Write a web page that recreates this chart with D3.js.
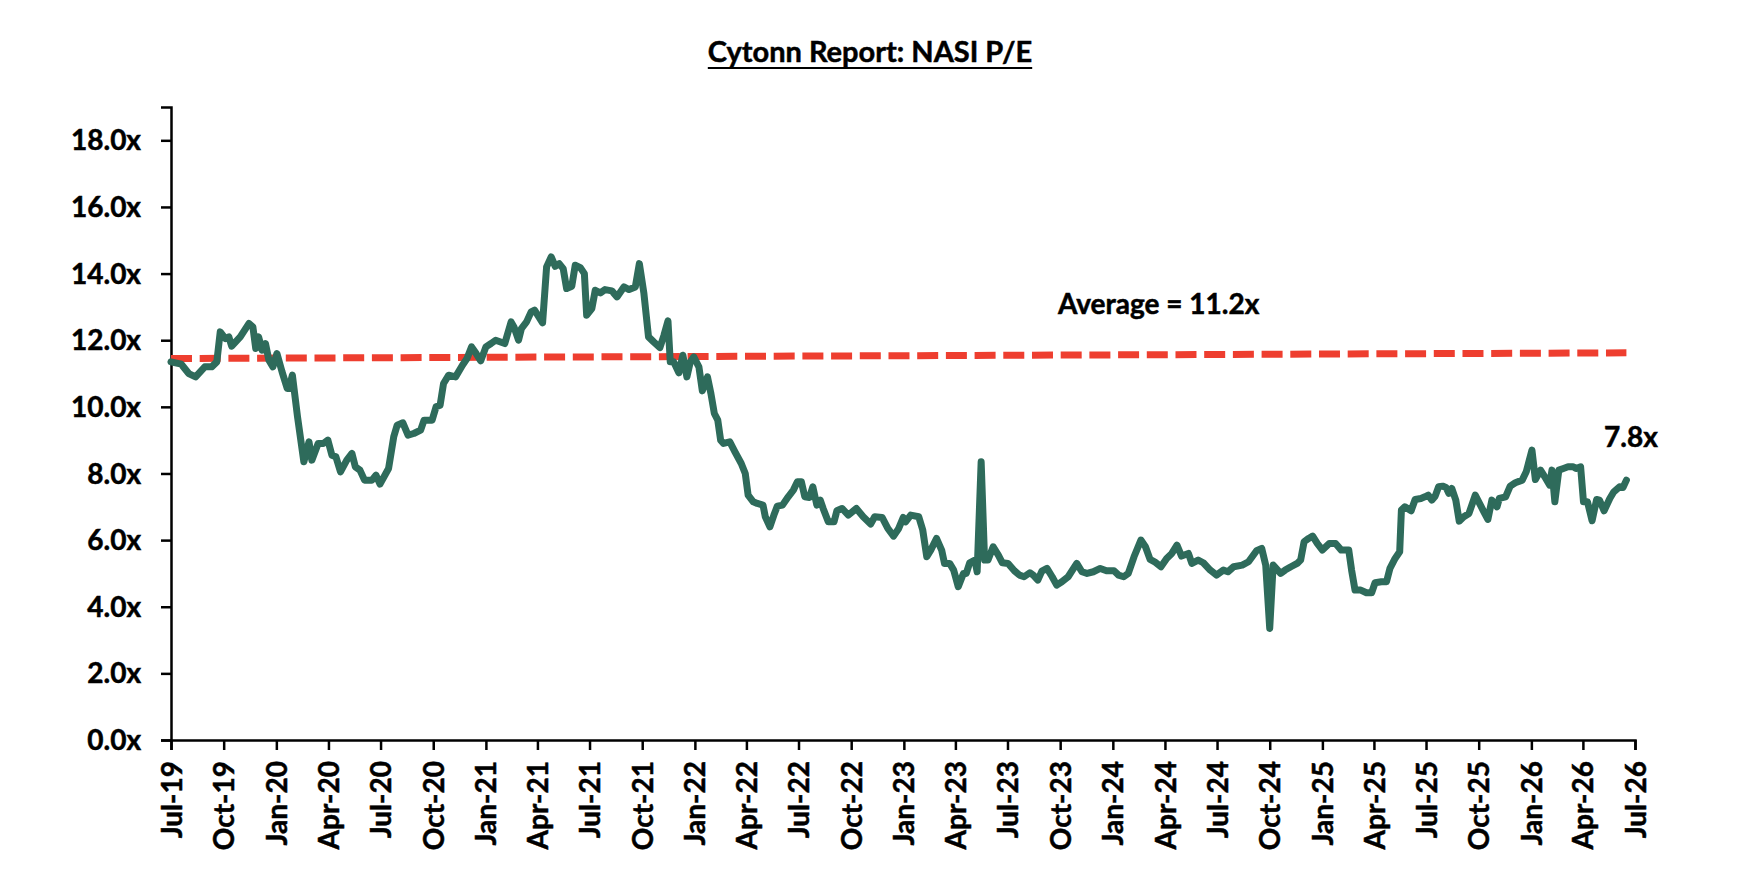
<!DOCTYPE html>
<html>
<head>
<meta charset="utf-8">
<script src="https://cdn.jsdelivr.net/npm/d3@7"></script>
<style>
  body { margin: 0; background: #fff; }
  svg text { font-family: Lato, "Open Sans", sans-serif; font-weight: 700; fill: #000; stroke: #000; stroke-width: 0.5px; }
</style>
</head>
<body>
<div id="chart"></div>
<script>
// NASI P/E weekly readings
var dates = [
  "2019-07-01","2019-07-19","2019-08-01","2019-08-13","2019-08-29","2019-09-10","2019-09-19","2019-09-25",
  "2019-10-04","2019-10-10","2019-10-15","2019-10-30","2019-11-14","2019-11-21","2019-11-26","2019-12-01",
  "2019-12-07","2019-12-13","2019-12-19","2019-12-26","2020-01-02","2020-01-11","2020-01-20","2020-01-23",
  "2020-01-29","2020-02-07","2020-02-18","2020-02-27","2020-03-03","2020-03-14","2020-03-23","2020-03-31",
  "2020-04-07","2020-04-14","2020-04-22","2020-05-03","2020-05-12","2020-05-18","2020-05-26","2020-06-03",
  "2020-06-16","2020-06-23","2020-06-30","2020-07-15","2020-07-24","2020-07-30","2020-08-09","2020-08-18",
  "2020-08-28","2020-09-09","2020-09-15","2020-09-29","2020-10-06","2020-10-13","2020-10-19","2020-10-28",
  "2020-11-09","2020-11-21","2020-11-29","2020-12-07","2020-12-15","2020-12-23","2021-01-01","2021-01-10",
  "2021-01-18","2021-02-03","2021-02-14","2021-02-19","2021-02-27","2021-03-04","2021-03-13","2021-03-21",
  "2021-03-27","2021-04-10","2021-04-17","2021-04-25","2021-05-02","2021-05-09","2021-05-16","2021-05-22",
  "2021-05-31","2021-06-06","2021-06-15","2021-06-22","2021-06-26","2021-07-05","2021-07-11","2021-07-20",
  "2021-07-28","2021-08-09","2021-08-18","2021-08-30","2021-09-08","2021-09-19","2021-09-26","2021-10-04",
  "2021-10-12","2021-10-21","2021-11-01","2021-11-08","2021-11-15","2021-11-19","2021-11-25","2021-12-04",
  "2021-12-11","2021-12-18","2021-12-24","2021-12-30","2022-01-08","2022-01-14","2022-01-23","2022-01-29",
  "2022-02-04","2022-02-10","2022-02-15","2022-02-20","2022-03-03","2022-03-12","2022-03-23","2022-03-30",
  "2022-04-04","2022-04-13","2022-04-20","2022-04-30","2022-05-04","2022-05-12","2022-05-19","2022-05-25",
  "2022-06-03","2022-06-13","2022-06-22","2022-06-29","2022-07-06","2022-07-12","2022-07-20","2022-07-26",
  "2022-08-02","2022-08-08","2022-08-13","2022-08-22","2022-09-01","2022-09-06","2022-09-15","2022-09-26",
  "2022-10-10","2022-10-22","2022-11-04","2022-11-11","2022-11-24","2022-12-04","2022-12-14","2022-12-23",
  "2022-12-31","2023-01-04","2023-01-13","2023-01-27","2023-02-03","2023-02-10","2023-02-17","2023-02-27",
  "2023-03-08","2023-03-13","2023-03-22","2023-03-29","2023-04-06","2023-04-15","2023-04-20","2023-04-26",
  "2023-05-05","2023-05-09","2023-05-16","2023-05-22","2023-05-28","2023-06-06","2023-06-15","2023-06-22",
  "2023-07-02","2023-07-13","2023-07-22","2023-07-30","2023-08-09","2023-08-15","2023-08-23","2023-08-30",
  "2023-09-08","2023-09-17","2023-09-25","2023-10-04","2023-10-15","2023-10-30","2023-11-08","2023-11-17",
  "2023-11-28","2023-12-10","2023-12-21","2024-01-03","2024-01-11","2024-01-20","2024-01-28","2024-02-07",
  "2024-02-19","2024-02-27","2024-03-06","2024-03-14","2024-03-25","2024-04-04","2024-04-13","2024-04-22",
  "2024-04-30","2024-05-12","2024-05-18","2024-05-29","2024-06-07","2024-06-19","2024-06-30","2024-07-12",
  "2024-07-20","2024-07-30","2024-08-14","2024-08-25","2024-09-08","2024-09-17","2024-09-24","2024-10-01",
  "2024-10-07","2024-10-20","2024-10-28","2024-11-07","2024-11-18","2024-11-24","2024-11-30","2024-12-08",
  "2024-12-15","2024-12-23","2025-01-01","2025-01-13","2025-01-24","2025-02-03","2025-02-16","2025-02-21",
  "2025-02-27","2025-03-09","2025-03-19","2025-03-28","2025-04-03","2025-04-14","2025-04-23","2025-04-29",
  "2025-05-08","2025-05-16","2025-05-19","2025-05-25","2025-06-05","2025-06-12","2025-06-22","2025-06-29",
  "2025-07-05","2025-07-11","2025-07-17","2025-07-23","2025-07-30","2025-08-05","2025-08-10","2025-08-15",
  "2025-08-22","2025-08-28","2025-09-05","2025-09-14","2025-09-25","2025-10-04","2025-10-10","2025-10-17",
  "2025-10-24","2025-11-02","2025-11-06","2025-11-17","2025-11-25","2025-12-04","2025-12-16","2025-12-23",
  "2026-01-02","2026-01-08","2026-01-17","2026-01-25","2026-02-02","2026-02-06","2026-02-11","2026-02-18",
  "2026-02-26","2026-03-06","2026-03-15","2026-03-20","2026-03-28","2026-04-02","2026-04-09","2026-04-17",
  "2026-04-25","2026-04-30","2026-05-08","2026-05-18","2026-05-25","2026-06-04","2026-06-10","2026-06-16"
];

var peValues = [
  11.35,11.28,11.0,10.9,11.2,11.2,11.35,12.25,
  12.05,12.1,11.82,12.1,12.5,12.4,11.75,12.1,
  11.7,11.9,11.4,11.2,11.6,11.05,10.55,10.55,
  10.95,9.7,8.35,8.95,8.4,8.9,8.9,9.0,
  8.55,8.5,8.05,8.4,8.6,8.2,8.1,7.8,
  7.8,7.95,7.68,8.15,9.1,9.45,9.52,9.15,
  9.2,9.3,9.6,9.6,10.0,10.05,10.7,10.95,
  10.9,11.25,11.45,11.8,11.6,11.38,11.8,11.9,
  12.0,11.9,12.55,12.4,12.0,12.35,12.55,12.85,
  12.9,12.52,14.2,14.5,14.22,14.3,14.15,13.55,
  13.62,14.25,14.18,14.0,12.75,12.95,13.5,13.42,
  13.52,13.48,13.3,13.6,13.52,13.6,14.3,13.4,
  12.1,11.95,11.78,12.15,12.58,11.35,11.35,11.02,
  11.55,10.9,11.35,11.5,11.2,10.48,10.9,10.4,
  9.8,9.6,9.0,8.9,8.95,8.65,8.3,8.0,
  7.35,7.15,7.1,7.05,6.7,6.4,6.75,7.02,
  7.05,7.3,7.5,7.75,7.75,7.3,7.28,7.6,
  7.05,7.2,6.95,6.55,6.55,6.88,6.95,6.75,
  6.95,6.7,6.48,6.7,6.68,6.35,6.12,6.35,
  6.68,6.55,6.75,6.7,6.3,5.5,5.7,6.05,
  5.7,5.3,5.3,5.1,4.6,5.0,5.0,5.32,
  5.4,5.05,8.35,5.4,5.4,5.8,5.55,5.32,
  5.3,5.08,4.95,4.9,5.02,4.95,4.8,5.07,
  5.15,4.9,4.65,4.75,4.9,5.3,5.05,5.0,
  5.05,5.15,5.08,5.08,4.95,4.9,5.0,5.5,
  6.0,5.8,5.42,5.35,5.2,5.45,5.6,5.85,
  5.52,5.6,5.3,5.4,5.32,5.1,4.95,5.1,
  5.05,5.2,5.25,5.35,5.68,5.75,5.25,3.35,
  5.25,5.0,5.1,5.2,5.3,5.4,5.95,6.05,
  6.12,5.9,5.7,5.9,5.9,5.7,5.7,5.1,
  4.5,4.5,4.42,4.42,4.72,4.75,4.75,5.15,
  5.45,5.65,6.9,7.0,6.88,7.22,7.25,7.3,
  7.35,7.2,7.32,7.6,7.62,7.58,7.4,7.55,
  7.2,6.57,6.7,6.8,7.35,7.05,6.85,6.62,
  7.2,7.0,7.25,7.3,7.62,7.72,7.8,8.05,
  8.7,7.82,8.1,7.88,7.65,8.1,7.15,8.1,
  8.15,8.2,8.2,8.15,8.2,7.15,7.15,6.58,
  7.22,7.2,6.88,7.25,7.45,7.6,7.58,7.8
];

// average reference line (two ends as drawn)
var avgDates = ["2019-07-01", "2026-06-16"];
var avgValues = [11.45, 11.62];

var yTicks = [0, 2, 4, 6, 8, 10, 12, 14, 16, 18];
var xDomain = ["2019-07-01", "2026-07-01"];
var yDomain = [0, 19];

var titleText = "Cytonn Report: NASI P/E";
var avgLabel = "Average = 11.2x";
var lastLabel = "7.8x";

var outerWidth = 1746,
    outerHeight = 886,
    margin = {top: 107, right: 111, bottom: 146, left: 171},
    width = outerWidth - margin.left - margin.right,
    height = outerHeight - margin.top - margin.bottom;

var parse = d3.timeParse("%Y-%m-%d");

var series = dates.map(function(d, i) { return {date: parse(d), value: peValues[i]}; });
var avgSeries = avgDates.map(function(d, i) { return {date: parse(d), value: avgValues[i]}; });

var x = d3.scaleTime()
    .domain(xDomain.map(parse))
    .range([0, width]);

var y = d3.scaleLinear()
    .domain(yDomain)
    .range([height, 0]);

var svg = d3.select("#chart")
    .append("svg")
        .attr("width", outerWidth)
        .attr("height", outerHeight);

var g = svg.append("g")
    .attr("transform", "translate(" + margin.left + "," + margin.top + ")");

// title, underlined
var title = svg.append("text")
    .attr("x", 870)
    .attr("y", 62)
    .attr("text-anchor", "middle")
    .style("font-size", "29px")
    .text(titleText);

var tb = title.node().getBBox();
svg.append("line")
    .attr("x1", tb.x)
    .attr("x2", tb.x + tb.width)
    .attr("y1", 68)
    .attr("y2", 68)
    .attr("stroke", "#000")
    .attr("stroke-width", 2.2);

// y axis
var yAxis = g.append("g")
    .call(d3.axisLeft(y)
        .tickValues(yTicks)
        .tickSize(10)
        .tickPadding(20)
        .tickFormat(function(d) { return d3.format(".1f")(d) + "x"; }));

yAxis.select(".domain").attr("stroke", "#000").attr("stroke-width", 2.5);
yAxis.selectAll(".tick line").attr("stroke", "#000").attr("stroke-width", 2.5);
yAxis.selectAll(".tick text")
    .style("font-size", "28px")
    .attr("dy", "0.34em");

// x axis
var xAxis = g.append("g")
    .attr("transform", "translate(0," + height + ")")
    .call(d3.axisBottom(x)
        .ticks(d3.timeMonth.every(3))
        .tickSize(10)
        .tickFormat(d3.timeFormat("%b-%y")));

xAxis.select(".domain").attr("stroke", "#000").attr("stroke-width", 2.5);
xAxis.selectAll(".tick line").attr("stroke", "#000").attr("stroke-width", 2.5);
xAxis.selectAll(".tick text")
    .style("font-size", "28px")
    .attr("text-anchor", "end")
    .attr("transform", "rotate(-90)")
    .attr("x", -21)
    .attr("y", 0)
    .attr("dy", "0.36em");

// average line
var line = d3.line()
    .x(function(d) { return x(d.date); })
    .y(function(d) { return y(d.value); });

g.append("path")
    .datum(avgSeries)
    .attr("fill", "none")
    .attr("stroke", "#ee3e2f")
    .attr("stroke-width", 7)
    .attr("stroke-dasharray", "21,7.7")
    .attr("d", line);

// P/E line
g.append("path")
    .datum(series)
    .attr("fill", "none")
    .attr("stroke", "#2e6b5b")
    .attr("stroke-width", 7)
    .attr("stroke-linejoin", "round")
    .attr("stroke-linecap", "round")
    .attr("d", line);

// annotations
svg.append("text")
    .attr("x", 1058)
    .attr("y", 314)
    .style("font-size", "28px")
    .text(avgLabel);

svg.append("text")
    .attr("x", 1604)
    .attr("y", 447)
    .style("font-size", "28px")
    .text(lastLabel);
</script>
</body>
</html>
